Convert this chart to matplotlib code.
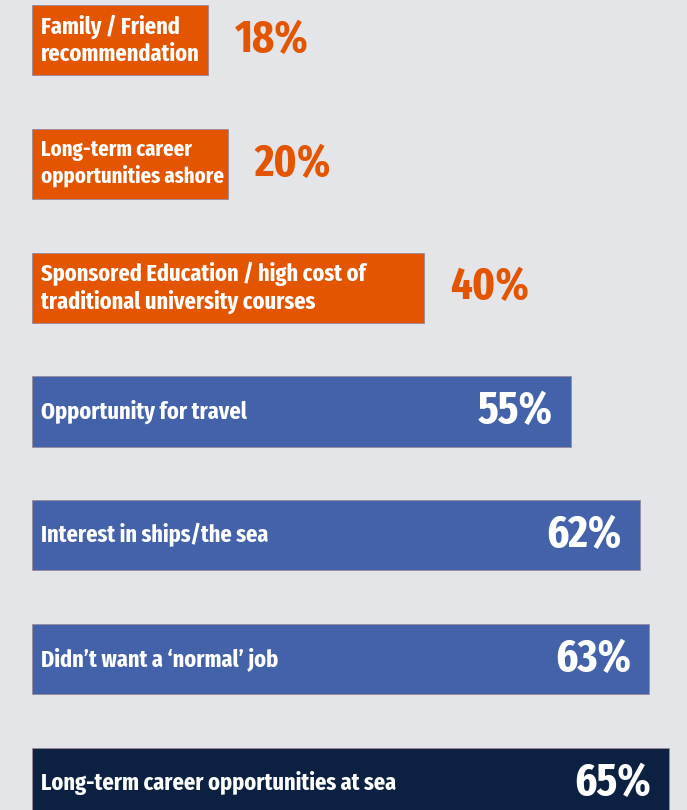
import matplotlib.pyplot as plt

# reasons for choosing a career at sea, % of respondents
labels = [
    'Family / Friend\nrecommendation',
    'Long-term career\nopportunities ashore',
    'Sponsored Education / high cost of\ntraditional university courses',
    'Opportunity for travel',
    'Interest in ships/the sea',
    'Didn\u2019t want a \u2018normal\u2019 job',
    'Long-term career opportunities at sea',
]
values = [18, 20, 40, 55, 62, 63, 65]
groups = ['minor', 'minor', 'minor', 'major', 'major', 'major', 'top']

colors = {'minor': '#e35500', 'major': '#4462aa', 'top': '#0c2142'}
bg = '#e4e5e9'

plt.rcParams['font.family'] = ['Fira Sans Extra Condensed', 'DejaVu Sans']

fig = plt.figure(figsize=(6.87, 8.10), dpi=100)
fig.patch.set_facecolor(bg)
ax = fig.add_axes([0, 0, 1, 1])
ax.set_facecolor(bg)
ax.set_xlim(-3.265, 66.84)
ax.set_ylim(6.218, -0.323)
ax.axis('off')

ypos = list(range(len(values)))
bar_colors = [colors[g] for g in groups]
bars = ax.barh(ypos, values, height=0.566, color=bar_colors,
               edgecolor='#9a8a9a', linewidth=0.6)

label_texts = []
for y, lab, v, g in zip(ypos, labels, values, groups):
    t = ax.annotate(lab, (0, y), xytext=(6.5, 0), textcoords='offset points',
                    ha='left', va='center', color='white', fontsize=17.5,
                    fontweight='bold', linespacing=1.2)
    label_texts.append(t)
    pct = f'{v}%'
    if g == 'minor':
        ax.annotate(pct, (v, y), xytext=(19, 0), textcoords='offset points',
                    ha='left', va='center', color=colors['minor'],
                    fontsize=33, fontweight='bold')
    else:
        ax.annotate(pct, (v, y), xytext=(-13, 0), textcoords='offset points',
                    ha='right', va='center', color='white',
                    fontsize=33, fontweight='bold')

# shrink any label that runs past the end of its bar
fig.canvas.draw()
renderer = fig.canvas.get_renderer()
for t, b in zip(label_texts, bars):
    room = b.get_window_extent(renderer).x1 - 5
    ext = t.get_window_extent(renderer)
    if ext.x1 > room:
        scale = (room - ext.x0) / ext.width
        t.set_fontsize(t.get_fontsize() * scale)

fig.savefig('out.png', dpi=100, facecolor=bg)
